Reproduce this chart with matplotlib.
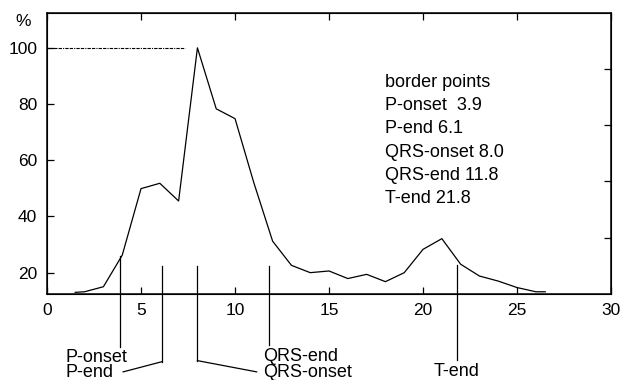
import matplotlib
matplotlib.use('Agg')
import matplotlib.pyplot as plt
import matplotlib.transforms as mtransforms

plt.rcParams['font.family'] = ['Liberation Sans', 'DejaVu Sans']

# averaged beat curve (% of peak)
x_vals = [1.5, 2, 3, 4, 5, 6, 7, 8, 9, 10, 11, 12, 13, 14, 15, 16, 17,
          18, 19, 20, 21, 22, 23, 24, 25, 26, 26.5]
y_vals = [13.0, 13.2, 15.0, 26.2, 49.9, 51.8, 45.5, 100.0, 78.3, 74.8, 52.0,
          31.2, 22.6, 20.0, 20.6, 17.9, 19.4, 16.8, 20.0, 28.3, 32.1, 23.0,
          18.8, 17.0, 14.7, 13.2, 13.2]

# border points
border_names = ['P-onset', 'P-end', 'QRS-onset', 'QRS-end', 'T-end']
border_x = [3.9, 6.1, 8.0, 11.8, 21.8]
border_text = ['P-onset  3.9', 'P-end 6.1', 'QRS-onset 8.0', 'QRS-end 11.8', 'T-end 21.8']

x_ticks = [0, 5, 10, 15, 20, 25, 30]
y_ticks = [20, 40, 60, 80, 100]

fig = plt.figure(figsize=(6.21, 3.80), dpi=100)
ax = fig.add_axes([0.0757, 0.227, 0.9083, 0.7396])

ax.plot(x_vals, y_vals, color='black', lw=0.9)
ax.plot([0, 7.35], [100, 100], color='black', lw=0.8, linestyle=(0, (3, 1, 1, 1, 3, 1)))

ax.set_xlim(0, 30)
ax.set_ylim(12.5, 112.5)
ax.set_xticks(x_ticks)
ax.set_yticks(y_ticks)
ax.tick_params(direction='in', length=5, width=0.9, labelsize=12.5, pad=7,
               top=True, colors='black')
for s in ax.spines.values():
    s.set_linewidth(1.1)

# right axis has its own 0-100 scale, ticks only
ax2 = ax.twinx()
ax2.set_ylim(0, 100)
ax2.set_yticks([20, 40, 60, 80])
ax2.tick_params(direction='in', length=5, width=0.9, labelright=False)

fig.text(23 / 621, 1 - 22 / 380, '%', fontsize=12.5, ha='center', va='center')

# border lines below the axis
trans = mtransforms.blended_transform_factory(ax.transData, ax.transAxes)
line_top = [0.134, 0.0986, 0.0986, 0.0986, 0.102]
line_bot = [-0.19, -0.242, -0.238, -0.183, -0.236]
for bx, t, b in zip(border_x, line_top, line_bot):
    ax.plot([bx, bx], [t, b], color='black', lw=0.9, transform=trans, clip_on=False)
# slanted connectors for P-end and QRS-onset
ax.plot([border_x[1], 4.05], [line_bot[1], -0.278], color='black', lw=0.9,
        transform=trans, clip_on=False)
ax.plot([border_x[2], 11.15], [line_bot[2], -0.278], color='black', lw=0.9,
        transform=trans, clip_on=False)

lab_fs = 13
ax.text(1.0, -0.226, border_names[0], transform=trans, fontsize=lab_fs, ha='left', va='center')
ax.text(1.0, -0.281, border_names[1], transform=trans, fontsize=lab_fs, ha='left', va='center')
ax.text(11.5, -0.279, border_names[2], transform=trans, fontsize=lab_fs, ha='left', va='center')
ax.text(11.5, -0.224, border_names[3], transform=trans, fontsize=lab_fs, ha='left', va='center')
ax.text(21.8, -0.276, border_names[4], transform=trans, fontsize=lab_fs, ha='center', va='center')

# legend-like text block
ax.text(18.0, 0.75, 'border points', transform=trans, fontsize=lab_fs, va='center')
for i, s in enumerate(border_text):
    ax.text(18.0, 0.75 - 0.0819 * (i + 1), s, transform=trans, fontsize=lab_fs, va='center')

fig.savefig('out.png', dpi=100)
